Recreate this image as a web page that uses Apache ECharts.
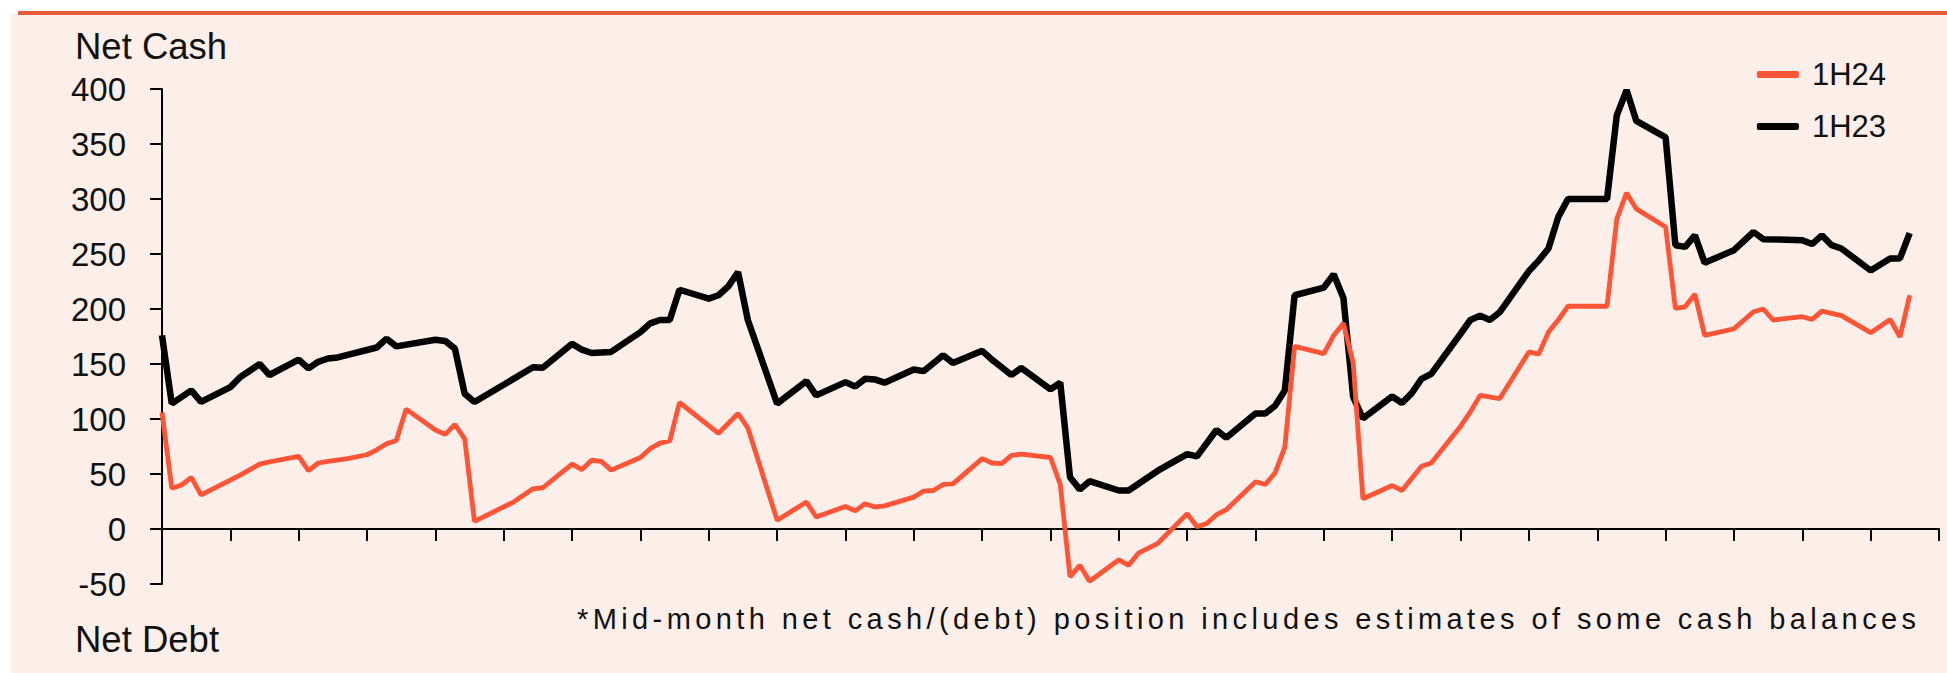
<!DOCTYPE html>
<html>
<head>
<meta charset="utf-8">
<script src="https://cdn.jsdelivr.net/npm/echarts@6.0.0/dist/echarts.min.js"></script>
<style>
html,body{margin:0;padding:0;background:#ffffff;}
#chart{width:1947px;height:673px;}
</style>
</head>
<body>
<div id="chart"></div>
<script>
// ---- data ----
const seriesNames = ['1H24', '1H23'];
const yTickValues = [-50, 0, 50, 100, 150, 200, 250, 300, 350, 400];
const dayRange = [0, 182];          // 26 weeks, one tick per week
const tickStepDays = 7;

// 1H24 (day index, net cash)
const h24Days = [0,1,2,3,4,8,10,11,14,15,16,17,19,21,22,23,24,25,28,29,30,31,32,36,38,39,42,43,44,45,46,49,50,51,52,53,57,59,60,63,66,67,70,71,72,73,74,77,78,79,80,81,84,85,86,87,88,91,92,93,94,95,98,99,100,102,105,106,107,108,109,112,113,114,115,116,119,120,121,122,123,126,127,129,130,133,134,135,137,140,141,142,143,144,148,149,150,151,154,155,156,157,158,161,163,164,165,168,169,170,172,175,177,178,179];
const h24Values = [106,37,40,47,31,49,59,61,66,53,60,61.5,64,67.5,72,77.5,80.5,109,90,86,95,82,7,24.5,36.5,37.5,59,54,62.5,61.5,53.5,65,73,78,80,115,87,105,92,8,24.5,11,20.5,16.5,23,20,21,29,34.5,35,40.5,41,64,60,59.5,67,68,65,40.5,-43.5,-33,-47.5,-28,-33,-22,-13,14,2,5,13,17.5,43,40.5,51,74.5,166,159.5,176,187,151,27.5,39.5,35,57,60,93.5,106.5,121.5,118.5,161,159,179,190,202.5,202.5,282,305.5,291,274.5,200.5,202,213.5,176,182,197.5,200,190,193,190.5,198,194,178.5,190.5,174.5,212.5];

// 1H23 (day index, net cash)
const h23Days = [0,1,3,4,7,8,10,11,14,15,16,17,18,22,23,24,28,29,30,31,32,38,39,42,43,44,46,49,50,51,52,53,56,57,58,59,60,63,66,67,70,71,72,73,74,77,78,80,81,84,85,87,88,91,92,93,94,95,98,99,101,102,105,106,108,109,112,113,114,115,116,119,120,121,122,123,126,127,128,129,130,133,134,135,136,137,140,141,142,143,144,148,149,150,151,154,155,156,157,158,161,163,164,168,169,170,171,172,175,177,178,179];
const h23Values = [176,114,126,115.5,129,138,150,140,154,146,152,155,156,165,173,166,172,171,164,123,115.5,147,146.5,168.5,163,160,161,179,187,190,190,217.5,209.5,212.5,220.5,233.5,190,114,134.5,121.5,133.5,129.5,136.5,136,133,145,143.5,158,151,162,154,140,146.5,127,133,47,36,43.5,35,35,47,53,68,66,90,83,105,105,112,126,212.5,219.5,231.5,210,120,100.5,120.5,114.5,123.5,136.5,141,177.5,190,194,190,197,234.5,244,255,283.5,300,300,376,399,371,356,258,256.5,267,242,253.5,270,263.5,262.5,259,267,258,255,235,246,246,269];

const labelNetCash = 'Net Cash';
const labelNetDebt = 'Net Debt';
const footnote = '*Mid-month net cash/(debt) position includes estimates of some cash balances';

// ---- build ----
function pairs(days, vals) { return days.map((d, i) => [d, vals[i]]); }

const chart = echarts.init(document.getElementById('chart'), null, {renderer: 'svg'});
const FONT = '"Liberation Sans", Arial, sans-serif';

chart.setOption({
  animation: false,
  backgroundColor: '#ffffff',
  grid: {left: 162, right: 8, top: 89, bottom: 89},
  legend: {
    data: seriesNames,
    orient: 'vertical',
    right: 56, top: 54,
    itemWidth: 42, itemHeight: 7, itemGap: 21,
    icon: 'roundRect',
    textStyle: {fontFamily: FONT, fontSize: 31, color: '#111', padding: [0, 0, 0, 8]}
  },
  xAxis: {
    type: 'value',
    min: dayRange[0], max: dayRange[1], interval: tickStepDays,
    axisLine: {show: true, onZero: true, lineStyle: {color: '#000', width: 2}},
    axisTick: {show: true, inside: false, length: 12, lineStyle: {color: '#000', width: 2}},
    axisLabel: {show: false},
    splitLine: {show: false}
  },
  yAxis: {
    type: 'value',
    min: yTickValues[0], max: yTickValues[yTickValues.length - 1], interval: 50,
    axisLine: {show: true, lineStyle: {color: '#000', width: 2}},
    axisTick: {show: true, inside: false, length: 12, lineStyle: {color: '#000', width: 2}},
    axisLabel: {show: true, margin: 36, fontFamily: FONT, fontSize: 33, color: '#111'},
    splitLine: {show: false}
  },
  graphic: [
    {type: 'rect', z: -10, shape: {x: 11, y: 14, width: 1936, height: 659}, style: {fill: '#FCEFEA'}},
    {type: 'rect', z: -9, shape: {x: 18, y: 11, width: 1929, height: 4}, style: {fill: '#E65A3C'}},
    {type: 'text', left: 75, top: 28, style: {text: labelNetCash, font: '36.5px ' + FONT, fill: '#111'}},
    {type: 'text', left: 75, top: 621, style: {text: labelNetDebt, font: '36.5px ' + FONT, fill: '#111'}},
    {type: 'text', id: 'footnote', left: 577, top: 604, style: {text: footnote, font: '29px ' + FONT, fill: '#111'}}
  ],
  series: [
    {name: seriesNames[1], type: 'line', data: pairs(h23Days, h23Values), showSymbol: false, symbol: 'none',
     lineStyle: {color: '#000000', width: 6.5}, itemStyle: {color: '#000000'}, z: 2},
    {name: seriesNames[0], type: 'line', data: pairs(h24Days, h24Values), showSymbol: false, symbol: 'none',
     lineStyle: {color: '#FF5436', width: 4.8}, itemStyle: {color: '#FF5436'}, z: 3}
  ]
});

// the footnote in the reference is letter-spaced; widen it in the rendered SVG
function spaceFootnote() {
  document.querySelectorAll('#chart svg text').forEach(t => {
    if (t.textContent === footnote) {
      t.setAttribute('letter-spacing', '4.4px');
      t.style.letterSpacing = '4.4px';
    }
  });
}
spaceFootnote();
chart.on('finished', spaceFootnote);
setTimeout(spaceFootnote, 50);
</script>
</body>
</html>
